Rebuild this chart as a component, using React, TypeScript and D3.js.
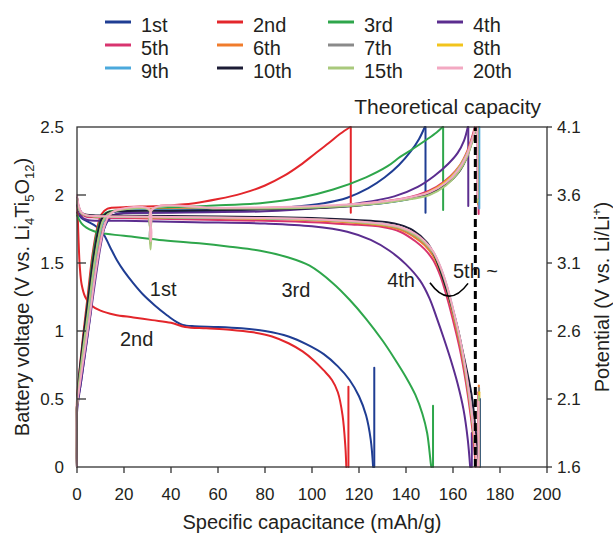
import React from "react";
import * as d3 from "d3";

type P = [number, number];

const cycles = ["1st", "2nd", "3rd", "4th", "5th", "6th", "7th", "8th", "9th", "10th", "15th", "20th"];
const colors = ["#1f3d93", "#e3262b", "#2ea64b", "#5b2d8f", "#d8346f", "#f07c2c", "#8a8a8a", "#f2c41c", "#4ba9dc", "#1c1c36", "#a9c97c", "#f3a9c2"];

const xTicks = [0, 20, 40, 60, 80, 100, 120, 140, 160, 180, 200];
const yTicks = [0, 0.5, 1, 1.5, 2, 2.5];
const yTickLabels = ["0", "0.5", "1", "1.5", "2", "2.5"];
const yRightTicks = [1.6, 2.1, 2.6, 3.1, 3.6, 4.1];
const theoreticalCapacity = 169.5;

// charge curves (mAh/g, V)
const charge1: P[] = [[0,0],[0,0.45],[1.5,0.6],[3.5,0.85],[5.5,1.1],[7.5,1.38],[9.5,1.6],[11.5,1.75],[13.5,1.82],[17,1.86],[30,1.87],[50,1.88],[70,1.89],[90,1.91],[105,1.94],[115,1.98],[124,2.05],[131,2.13],[137,2.22],[142,2.32],[145.5,2.41],[148,2.5]];
const charge2: P[] = [[0,0],[0,0.5],[1,0.7],[2.5,0.95],[4.5,1.25],[6.5,1.55],[8.5,1.75],[10.5,1.86],[13,1.9],[20,1.91],[35,1.92],[50,1.94],[60,1.97],[70,2.01],[80,2.07],[88,2.14],[95,2.22],[101,2.3],[107,2.38],[112,2.45],[116.3,2.5]];
const charge3: P[] = [[0,0],[0,0.45],[1,0.65],[2.8,0.95],[4.8,1.25],[6.8,1.55],[8.8,1.75],[11,1.85],[14,1.88],[25,1.89],[35,1.9],[55,1.92],[78,1.94],[95,1.98],[109,2.04],[123,2.13],[132,2.21],[137.5,2.28],[143,2.34],[149,2.41],[153,2.46],[155.6,2.5]];
const charge4: P[] = [[0,0],[0,0.4],[1.5,0.6],[4,0.9],[6,1.15],[8,1.4],[10,1.62],[12,1.78],[14,1.84],[17,1.86],[40,1.87],[80,1.88],[100,1.9],[120,1.94],[135,1.99],[145,2.06],[152,2.14],[158,2.23],[162,2.31],[164.7,2.4],[166.3,2.5]];
const charge5: P[] = [[0,0],[0,0.45],[1.2,0.63],[3.3,0.9],[5.3,1.15],[7.3,1.42],[9.3,1.65],[11.3,1.8],[13.5,1.86],[17,1.88],[40,1.89],[80,1.9],[110,1.92],[130,1.95],[145,2.0],[153,2.06],[159,2.14],[163,2.22],[166,2.32],[168,2.42],[169.3,2.5]];
const charge6: P[] = [[0,0],[0,0.45],[1,0.64],[3,0.92],[5,1.18],[7,1.45],[9,1.67],[11,1.81],[13.2,1.86],[17,1.885],[40,1.895],[80,1.905],[110,1.92],[130,1.95],[145,1.99],[153,2.05],[159,2.13],[163,2.21],[166.2,2.31],[168.3,2.42],[169.6,2.5]];
const charge7: P[] = [[0,0],[0,0.45],[1,0.64],[3,0.92],[5,1.18],[7,1.45],[9,1.67],[11,1.81],[13.2,1.86],[17,1.885],[30.6,1.89],[30.9,1.7],[31.2,1.64],[31.5,1.7],[31.8,1.89],[60,1.9],[95,1.91],[120,1.93],[138,1.965],[150,2.01],[157,2.08],[162,2.17],[165.5,2.27],[168,2.39],[169.7,2.5]];
const charge8: P[] = [[0,0],[0,0.45],[1.1,0.63],[3.1,0.91],[5.1,1.17],[7.1,1.44],[9.1,1.66],[11.1,1.8],[13.3,1.86],[17,1.885],[40,1.89],[80,1.9],[110,1.915],[130,1.945],[145,1.99],[153,2.05],[159,2.13],[163.5,2.23],[166.5,2.33],[168.5,2.43],[169.7,2.5]];
const charge9: P[] = [[0,0],[0,0.45],[1.1,0.63],[3.1,0.91],[5.1,1.17],[7.1,1.44],[9.1,1.66],[11.1,1.8],[13.3,1.86],[17,1.88],[40,1.89],[80,1.9],[110,1.915],[130,1.94],[145,1.985],[153,2.04],[159,2.12],[163.5,2.22],[166.5,2.32],[168.6,2.43],[169.9,2.5]];
const charge10: P[] = [[0,0],[0,0.45],[0.8,0.65],[2.7,0.95],[4.7,1.22],[6.7,1.5],[8.7,1.71],[10.7,1.83],[13,1.87],[17,1.88],[40,1.885],[80,1.895],[110,1.91],[137.5,1.96],[148,2.0],[154.5,2.05],[160,2.12],[163,2.18],[165.5,2.26],[167.5,2.36],[169,2.45],[170,2.5]];
const charge15: P[] = [[0,0],[0,0.45],[1,0.64],[3,0.92],[5,1.18],[7,1.45],[9,1.67],[11,1.81],[13.2,1.86],[17,1.885],[30.7,1.89],[31,1.68],[31.3,1.6],[31.6,1.68],[31.9,1.89],[60,1.9],[95,1.905],[120,1.925],[138,1.96],[150,2.0],[157,2.07],[162,2.16],[165.5,2.26],[168,2.38],[169.8,2.5]];
const charge20: P[] = [[0,0],[0,0.45],[1.3,0.62],[3.5,0.88],[5.5,1.12],[7.5,1.38],[9.5,1.6],[11.5,1.76],[13.7,1.85],[17,1.89],[30.8,1.895],[31.1,1.72],[31.4,1.66],[31.7,1.72],[32,1.895],[60,1.905],[95,1.915],[120,1.935],[138,1.97],[150,2.02],[157,2.09],[162,2.18],[165.5,2.28],[168,2.4],[169.6,2.5]];

// discharge curves (mAh/g, V)
const discharge1: P[] = [[0,1.87],[2,1.83],[5,1.8],[8,1.77],[11,1.72],[14,1.62],[17,1.52],[20,1.44],[24,1.35],[28,1.27],[33,1.19],[38,1.12],[42,1.07],[45,1.045],[50,1.035],[60,1.03],[70,1.02],[80,1.0],[90,0.96],[98,0.9],[105,0.83],[111,0.74],[116,0.64],[120,0.52],[123,0.38],[125,0.2],[126,0]];
const discharge2: P[] = [[0,1.97],[0.3,1.85],[0.7,1.65],[1.2,1.47],[2,1.34],[3.5,1.25],[6,1.19],[10,1.15],[16,1.12],[24,1.1],[32,1.08],[40,1.06],[46,1.03],[55,1.02],[65,1.01],[75,0.99],[83,0.96],[90,0.91],[96,0.85],[101,0.78],[105,0.71],[108.5,0.64],[111,0.55],[113,0.38],[114.2,0.15],[114.6,0]];
const discharge3: P[] = [[0,1.85],[2,1.79],[4,1.76],[7,1.735],[10,1.72],[20,1.7],[35,1.67],[52,1.645],[65,1.62],[78,1.59],[90,1.54],[99,1.48],[109,1.35],[116,1.23],[123,1.09],[130,0.93],[135,0.8],[140,0.66],[144,0.53],[147,0.39],[149,0.25],[150.6,0.02],[150.8,0]];
const discharge4: P[] = [[0,1.93],[1,1.87],[2.5,1.83],[5,1.815],[20,1.81],[50,1.8],[80,1.79],[100,1.77],[115,1.73],[125,1.67],[133,1.59],[140,1.49],[146,1.37],[150,1.24],[153,1.1],[156,0.95],[159,0.79],[162,0.61],[164.5,0.42],[166.3,0.2],[167.3,0]];
const discharge5: P[] = [[0,1.98],[0.8,1.9],[2,1.86],[4,1.84],[8,1.835],[20,1.83],[50,1.82],[80,1.81],[100,1.8],[115,1.785],[130,1.765],[137.5,1.73],[144,1.66],[148,1.6],[151.6,1.52],[154.5,1.41],[157.4,1.25],[160,1.08],[163,0.86],[165.5,0.62],[167.5,0.38],[169,0.15],[169.6,0]];
const discharge6: P[] = [[0,1.98],[0.8,1.9],[2,1.865],[4,1.85],[8,1.84],[20,1.838],[50,1.83],[80,1.825],[100,1.815],[115,1.8],[125,1.785],[130,1.775],[137.5,1.745],[144,1.685],[148,1.63],[151.6,1.55],[154.5,1.44],[157.4,1.29],[160,1.12],[163,0.9],[165.5,0.66],[167.5,0.42],[169,0.2],[170,0]];
const discharge7: P[] = [[0,1.98],[0.8,1.9],[2,1.865],[4,1.85],[8,1.842],[20,1.84],[50,1.833],[80,1.828],[100,1.82],[115,1.805],[125,1.79],[130,1.78],[137.5,1.755],[144,1.7],[148,1.645],[151.6,1.57],[154.5,1.46],[157.4,1.31],[160,1.14],[163,0.92],[165.5,0.68],[167.5,0.44],[169,0.22],[170.1,0]];
const discharge8: P[] = [[0,1.98],[0.8,1.9],[2,1.865],[4,1.85],[8,1.842],[20,1.84],[50,1.833],[80,1.828],[100,1.82],[115,1.806],[125,1.792],[130,1.782],[137.5,1.758],[144,1.705],[148,1.65],[151.6,1.575],[154.5,1.47],[157.4,1.32],[160,1.15],[163,0.93],[165.5,0.69],[167.5,0.45],[169,0.23],[170.2,0]];
const discharge9: P[] = [[0,1.98],[0.8,1.9],[2,1.865],[4,1.85],[8,1.843],[20,1.841],[50,1.835],[80,1.83],[100,1.822],[115,1.808],[125,1.795],[130,1.786],[137.5,1.762],[144,1.71],[148,1.655],[151.6,1.58],[154.5,1.475],[157.4,1.33],[160,1.16],[163,0.94],[165.5,0.7],[167.5,0.46],[169,0.24],[170.3,0]];
const discharge10: P[] = [[0,1.98],[0.8,1.91],[2,1.87],[4,1.855],[8,1.85],[20,1.848],[50,1.843],[80,1.838],[100,1.83],[115,1.82],[125,1.81],[132,1.8],[137.5,1.78],[143,1.74],[149,1.65],[152,1.56],[154.5,1.45],[157,1.32],[160,1.15],[162,1.02],[164,0.86],[166,0.7],[168,0.52],[169.5,0.3],[170.5,0.1],[170.9,0]];
const discharge15: P[] = [[0,1.97],[0.8,1.9],[2,1.865],[4,1.85],[8,1.843],[20,1.84],[50,1.834],[80,1.829],[100,1.821],[115,1.807],[125,1.793],[130,1.784],[137.5,1.76],[144,1.707],[148,1.652],[151.6,1.578],[154.5,1.472],[157.4,1.325],[160,1.155],[163,0.935],[165.5,0.695],[167.5,0.455],[169,0.235],[170.2,0]];
const discharge20: P[] = [[0,2.0],[0.8,1.92],[2,1.87],[4,1.852],[8,1.845],[20,1.842],[50,1.836],[80,1.83],[100,1.822],[115,1.81],[125,1.797],[130,1.788],[137.5,1.765],[144,1.715],[148,1.66],[151.6,1.585],[154.5,1.48],[157.4,1.335],[160,1.165],[163,0.945],[165.5,0.705],[167.5,0.465],[169,0.245],[170.3,0]];

// relaxation steps at end of each half-cycle: [capacity, from V, to V]
const chargeRelax: [number, number, number][] = [[148.3,2.5,1.87],[116.5,2.5,1.87],[155.8,2.5,1.89],[166.5,2.5,1.92],[170.9,2.5,1.86],[170.7,2.5,1.93],[170.8,2.5,1.94],[170.6,2.5,1.95],[171.2,2.5,1.9],[170.4,2.5,1.97],[170.5,2.5,1.96],[170.3,2.5,1.98]];
const dischargeRelax: [number, number, number][] = [[126.5,0,0.73],[115.5,0,0.59],[151.5,0,0.45],[168,0,0.25],[170.8,0,0.55],[171,0,0.6],[171.1,0,0.58],[171.2,0,0.55],[171.4,0,0.5],[171.3,0,0.5],[171,0,0.52],[170.9,0,0.48]];

const charges = [charge1, charge2, charge3, charge4, charge5, charge6, charge7, charge8, charge9, charge10, charge15, charge20];
const discharges = [discharge1, discharge2, discharge3, discharge4, discharge5, discharge6, discharge7, discharge8, discharge9, discharge10, discharge15, discharge20];

const FONT = "'Liberation Sans', Arial, Helvetica, sans-serif";
const INK = "#231f20";

export default function App() {
  const x = d3.scaleLinear().domain([0, 200]).range([77, 547]);
  const y = d3.scaleLinear().domain([0, 2.5]).range([467, 127]);
  const yR = d3.scaleLinear().domain([1.6, 4.1]).range([467, 127]);
  const line = d3.line<P>().x((d) => x(d[0])).y((d) => y(d[1])).curve(d3.curveCatmullRom.alpha(0.5));
  const straight = d3.line<P>().x((d) => x(d[0])).y((d) => y(d[1]));

  const legendCols = [105, 217, 328, 437];
  const legendRows = [22, 45, 68];

  const arcPath = `M ${x(150.2)} ${y(1.355)} Q ${x(158.3)} ${y(1.16)} ${x(166.4)} ${y(1.35)}`;

  return (
    <svg width={613} height={535} style={{ position: "absolute", left: 0, top: 0, background: "#fff" }} fontFamily={FONT}>
      <rect x={0} y={0} width={613} height={535} fill="#fff" />
      {/* legend */}
      {cycles.map((c, i) => {
        const lx = legendCols[i % 4];
        const ly = legendRows[Math.floor(i / 4)];
        return (
          <g key={c}>
            <line x1={lx} x2={lx + 26} y1={ly} y2={ly} stroke={colors[i]} strokeWidth={3} />
            <text x={lx + 36} y={ly + 10} fontSize={20} fill={INK}>{c}</text>
          </g>
        );
      })}

      {/* curves */}
      <g fill="none" strokeWidth={2} strokeLinejoin="round" strokeLinecap="round">
        {cycles.map((c, i) => (
          <g key={c} stroke={colors[i]}>
            <path d={line(charges[i]) || ""} />
            <path d={line(discharges[i]) || ""} />
            <path d={straight([[chargeRelax[i][0], chargeRelax[i][1]], [chargeRelax[i][0], chargeRelax[i][2]]]) || ""} />
            <path d={straight([[dischargeRelax[i][0], dischargeRelax[i][1]], [dischargeRelax[i][0], dischargeRelax[i][2]]]) || ""} />
          </g>
        ))}
      </g>

      {/* theoretical capacity */}
      <line x1={x(theoreticalCapacity)} x2={x(theoreticalCapacity)} y1={y(0)} y2={y(2.5)} stroke="#000" strokeWidth={3} strokeDasharray="8 4" />
      <text x={541} y={114} fontSize={21} textAnchor="end" fill={INK}>Theoretical capacity</text>

      {/* frame */}
      <rect x={x(0)} y={y(2.5)} width={x(200) - x(0)} height={y(0) - y(2.5)} fill="none" stroke="#333" strokeWidth={1.3} />

      {/* bottom axis */}
      {xTicks.map((t) => (
        <g key={t}>
          <line x1={x(t)} x2={x(t)} y1={y(0)} y2={y(0) + 6} stroke="#333" strokeWidth={1.3} />
          <text x={x(t)} y={500} fontSize={17} textAnchor="middle" fill={INK}>{t}</text>
        </g>
      ))}
      <text x={(x(0) + x(200)) / 2} y={529} fontSize={20} textAnchor="middle" fill={INK}>Specific capacitance (mAh/g)</text>

      {/* left axis */}
      {yTicks.map((t, i) => (
        <g key={t}>
          {t > 0 && t < 2.5 && <line x1={x(0)} x2={x(0) + 9} y1={y(t)} y2={y(t)} stroke="#333" strokeWidth={1.3} />}
          <text x={64} y={y(t) + 6} fontSize={17} textAnchor="end" fill={INK}>{yTickLabels[i]}</text>
        </g>
      ))}
      <text transform={`translate(29, ${(y(0) + y(2.5)) / 2}) rotate(-90)`} fontSize={20} textAnchor="middle" fill={INK}>
        Battery voltage (V vs. Li<tspan fontSize={13} dy={5}>4</tspan><tspan dy={-5}>Ti</tspan><tspan fontSize={13} dy={5}>5</tspan><tspan dy={-5}>O</tspan><tspan fontSize={13} dy={5}>12</tspan><tspan dy={-5}>)</tspan>
      </text>

      {/* right axis */}
      {yRightTicks.map((t) => (
        <g key={t}>
          <line x1={x(200)} x2={x(200) + 5} y1={yR(t)} y2={yR(t)} stroke="#333" strokeWidth={1.3} />
          <text x={557} y={yR(t) + 6} fontSize={17} fill={INK}>{t.toFixed(1)}</text>
        </g>
      ))}
      <text transform={`translate(609, ${(y(0) + y(2.5)) / 2}) rotate(-90)`} fontSize={20} textAnchor="middle" fill={INK}>
        Potential (V vs. Li/Li<tspan fontSize={12} dy={-8}>+</tspan><tspan dy={8}>)</tspan>
      </text>

      {/* annotations */}
      <text x={x(31)} y={y(1.26)} fontSize={20} fill={INK}>1st</text>
      <text x={x(18.3)} y={y(0.89)} fontSize={20} fill={INK}>2nd</text>
      <text x={x(87)} y={y(1.25)} fontSize={20} fill={INK}>3rd</text>
      <text x={x(132)} y={y(1.32)} fontSize={20} fill={INK}>4th</text>
      <text x={x(160)} y={y(1.39)} fontSize={20} fill={INK}>5th ~</text>
      <path d={arcPath} fill="none" stroke="#000" strokeWidth={1.6} />
    </svg>
  );
}
